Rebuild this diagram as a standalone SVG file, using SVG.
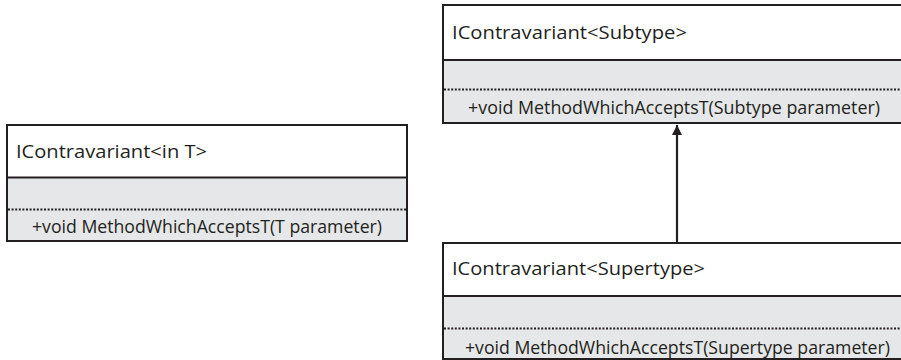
<svg xmlns="http://www.w3.org/2000/svg" width="901" height="360" viewBox="0 0 901 360">
<defs>
<style>
.hdr{fill:#ffffff;stroke:none}
.bdy{fill:#e6e7e8;stroke:none}
.frame{fill:none;stroke:#231f20;stroke-width:2}
.sep{stroke:#231f20;stroke-width:2}
.dot{stroke:#231f20;stroke-width:2;stroke-dasharray:2 1.6}
.t{font-family:"Open Sans","Noto Sans","DejaVu Sans",sans-serif;font-size:17.5px;fill:#231f20}
.conn{stroke:#231f20;stroke-width:2.2;fill:none}
</style>
<marker id="ah" viewBox="0 0 10 10" refX="10" refY="5" markerWidth="10" markerHeight="10" markerUnits="userSpaceOnUse" orient="auto">
<path d="M0,0 L10,5 L0,10 Z" fill="#231f20"/>
</marker>
</defs>
<g id="node-generic">
<rect class="hdr" x="7" y="125" width="400" height="52"/>
<rect class="bdy" x="7" y="177" width="400" height="64"/>
<line class="sep" x1="7" y1="177.5" x2="407" y2="177.5"/>
<line class="dot" x1="8" y1="209.5" x2="406" y2="209.5"/>
<rect class="frame" x="7" y="125" width="400" height="116"/>
<text class="t" x="16" y="158" textLength="191" lengthAdjust="spacingAndGlyphs">IContravariant&lt;in T&gt;</text>
<text class="t" x="32" y="233" textLength="350" lengthAdjust="spacingAndGlyphs">+void MethodWhichAcceptsT(T parameter)</text>
</g>
<g id="node-subtype">
<rect class="hdr" x="443" y="5" width="462" height="55"/>
<rect class="bdy" x="443" y="60" width="462" height="63"/>
<line class="sep" x1="443" y1="60" x2="905" y2="60"/>
<line class="dot" x1="444" y1="89.5" x2="905" y2="89.5"/>
<rect class="frame" x="443" y="5" width="462" height="118"/>
<text class="t" x="452" y="39" textLength="235" lengthAdjust="spacingAndGlyphs">IContravariant&lt;Subtype&gt;</text>
<text class="t" x="468" y="114" textLength="412" lengthAdjust="spacingAndGlyphs">+void MethodWhichAcceptsT(Subtype parameter)</text>
</g>
<g id="node-supertype">
<rect class="hdr" x="443" y="243" width="462" height="53"/>
<rect class="bdy" x="443" y="296" width="462" height="63"/>
<line class="sep" x1="443" y1="296" x2="905" y2="296"/>
<line class="dot" x1="444" y1="328.5" x2="905" y2="328.5"/>
<rect class="frame" x="443" y="243" width="462" height="116"/>
<text class="t" x="452" y="275" textLength="253" lengthAdjust="spacingAndGlyphs">IContravariant&lt;Supertype&gt;</text>
<text class="t" x="465" y="354" textLength="425" lengthAdjust="spacingAndGlyphs">+void MethodWhichAcceptsT(Supertype parameter)</text>
</g>
<g id="connectors">
<line class="conn" x1="677" y1="242" x2="677" y2="125" marker-end="url(#ah)"/>
</g>
</svg>
